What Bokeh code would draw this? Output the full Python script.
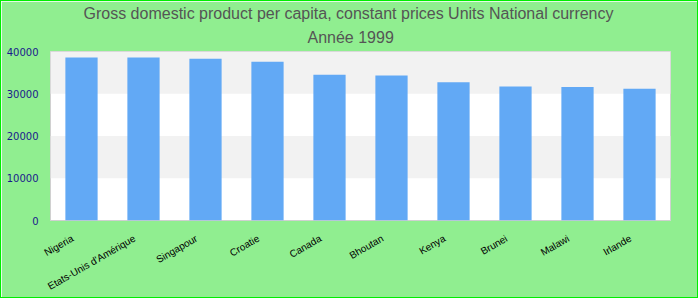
import math
from bokeh.plotting import figure
from bokeh.models import Title, FixedTicker, Range1d, ColumnDataSource, LinearAxis
from bokeh.embed import file_html
from bokeh.resources import INLINE

countries = ["Nigeria", "Etats-Unis d'Amérique", "Singapour", "Croatie", "Canada",
             "Bhoutan", "Kenya", "Brunei", "Malawi", "Irlande"]
values = [38600, 38600, 38300, 37600, 34500, 34300, 32700, 31700, 31600, 31200]
y_ticks = [0, 10000, 20000, 30000, 40000]
title_line1 = "Gross domestic product per capita, constant prices Units National currency"
title_line2 = "Année 1999"

n = len(countries)
src = ColumnDataSource(dict(pos=list(range(n)), country=countries, value=values))

p = figure(x_range=Range1d(-0.5, n - 0.5), y_range=Range1d(0, 40000), width=698, height=298,
           output_backend="svg", toolbar_location=None, title=title_line1,
           min_border_left=49, min_border_right=29, min_border_top=50, min_border_bottom=79)
p.styles = {"border": "1px solid #00ee00"}

p.title.align = "left"
p.title.offset = 33
p.title.text_font = "Liberation Sans"
p.title.text_font_size = "16px"
p.title.text_font_style = "normal"
p.title.text_color = "#555555"
p.title.standoff = 0
t2 = Title(text=title_line2, align="left", offset=257, text_font="Liberation Sans",
           text_font_size="16px", text_font_style="normal", text_color="#555555",
           standoff=11)
p.add_layout(t2, "above")

p.background_fill_color = "white"
p.border_fill_color = "#90ee90"
p.outline_line_color = "#d0d0d0"

p.vbar(x="pos", top="value", width=0.52, source=src, fill_color="#62a9f5", line_color=None)

p.ygrid.ticker = FixedTicker(ticks=y_ticks)
p.yaxis.ticker = FixedTicker(ticks=y_ticks)
p.ygrid.grid_line_color = None
p.ygrid.band_fill_color = "#f2f2f2"
p.ygrid.band_fill_alpha = 1.0
p.xgrid.grid_line_color = None

p.yaxis.axis_line_color = None
p.yaxis.major_tick_line_color = None
p.yaxis.minor_tick_line_color = None
p.yaxis.major_tick_out = 0
p.yaxis.major_label_standoff = 12
p.yaxis.major_label_text_font = "DejaVu Sans"
p.yaxis.major_label_text_font_size = "10px"
p.yaxis.major_label_text_color = "#1a1a8c"
p.yaxis.formatter.use_scientific = False

# main x axis hidden; category labels drawn on a slightly shifted label axis
p.xaxis.visible = False
label_shift = 0.145
p.extra_x_ranges = {"labels": Range1d(start=-0.5 + label_shift, end=n - 0.5 + label_shift)}
lab_axis = LinearAxis(x_range_name="labels",
                      ticker=FixedTicker(ticks=list(range(n))),
                      major_label_overrides={i: c for i, c in enumerate(countries)})
lab_axis.axis_line_color = None
lab_axis.major_tick_line_color = None
lab_axis.minor_tick_line_color = None
lab_axis.major_tick_out = 0
lab_axis.minor_tick_out = 0
lab_axis.major_label_orientation = math.pi / 6
lab_axis.major_label_standoff = 17
lab_axis.major_label_text_font = "Liberation Sans"
lab_axis.major_label_text_font_size = "10px"
lab_axis.major_label_text_color = "black"
p.add_layout(lab_axis, "below")

open("out.html", "w").write(file_html(p, INLINE))
